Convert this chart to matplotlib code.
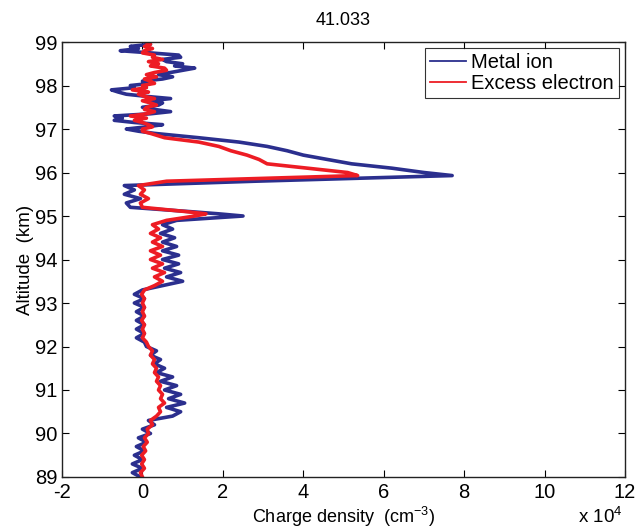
import matplotlib
matplotlib.use("Agg")
import matplotlib.pyplot as plt
import numpy as np

plt.rcParams['font.family'] = ['Liberation Sans', 'DejaVu Sans']
plt.rcParams['mathtext.fontset'] = 'custom'
plt.rcParams['mathtext.rm'] = 'Liberation Sans'
plt.rcParams['mathtext.it'] = 'Liberation Sans:italic'
plt.rcParams['axes.unicode_minus'] = False

TITLE = "41.033"

# altitude (km), shared by both profiles
altitude = [89.0, 89.1, 89.2, 89.3, 89.4, 89.5, 89.6, 89.7, 89.8, 89.9,
            90.0, 90.1, 90.2, 90.3, 90.4, 90.5, 90.6, 90.7, 90.8, 90.9,
            91.0, 91.1, 91.2, 91.3, 91.4, 91.5, 91.6, 91.7, 91.8, 91.9,
            92.0, 92.1, 92.2, 92.3, 92.4, 92.5, 92.6, 92.7, 92.8, 92.9,
            93.0, 93.1, 93.2, 93.3, 93.4, 93.5, 93.6, 93.7, 93.8, 93.9,
            94.0, 94.1, 94.2, 94.3, 94.4, 94.5, 94.6, 94.7, 94.8, 94.9,
            95.0, 95.05, 95.1, 95.2, 95.3, 95.4, 95.5, 95.6, 95.7, 95.8,
            95.93, 96.0, 96.1, 96.2, 96.3, 96.4, 96.5, 96.6, 96.7, 96.8,
            96.9, 96.95, 97.0, 97.05, 97.1, 97.15, 97.2, 97.25, 97.3, 97.35,
            97.4, 97.45, 97.5, 97.55, 97.6, 97.65, 97.7, 97.75, 97.8, 97.85,
            97.9, 97.95, 98.0, 98.05, 98.1, 98.15, 98.2, 98.25, 98.3, 98.35,
            98.4, 98.45, 98.5, 98.55, 98.6, 98.65, 98.7, 98.75, 98.8, 98.85,
            98.9, 98.95, 99.0]

# charge density, units of 1e4 cm^-3
metal_ion = [-0.05, -0.25, 0.0, -0.25, 0.0, -0.2, 0.05, -0.15, 0.1, -0.1,
             0.2, 0.0, 0.3, 0.15, 0.75, 0.95, 0.6, 1.05, 0.65, 0.95,
             0.55, 0.85, 0.45, 0.75, 0.35, 0.55, 0.3, 0.45, 0.2, 0.35,
             0.1, 0.05, -0.15, 0.05, -0.15, 0.05, -0.15, 0.05, -0.15, 0.05,
             -0.2, 0.05, -0.2, 0.0, 0.5, 1.0, 0.6, 0.95, 0.55, 0.9,
             0.5, 0.9, 0.5, 0.85, 0.5, 0.8, 0.45, 0.75, 0.5, 0.85,
             2.5, 1.9, 1.2, -0.3, -0.4, -0.05, -0.45, -0.2, -0.45, 2.8,
             7.7, 7.0, 6.2, 5.2, 4.6, 4.0, 3.6, 3.1, 2.4, 1.4,
             0.3, -0.1, -0.4, 0.1, 0.5, -0.2, -0.7, -0.5, -0.7, 0.2,
             0.7, 0.3, 0.0, 0.4, 0.5, 0.2, 0.7, 0.1, -0.4, -0.6,
             -0.77, -0.2, -0.3, 0.2, 0.0, 0.5, 0.75, 0.4, 0.7, 1.0,
             1.3, 0.8, 1.0, 0.6, 0.5, 0.95, 0.9, 0.2, -0.55, -0.1,
             -0.3, 0.2, 0.1]

excess_electron = [0.0, -0.05, 0.05, -0.02, 0.05, -0.02, 0.08, 0.02, 0.12, 0.05,
                   0.15, 0.12, 0.25, 0.2, 0.35, 0.45, 0.4, 0.55, 0.45, 0.5,
                   0.4, 0.45, 0.35, 0.4, 0.3, 0.35, 0.25, 0.3, 0.2, 0.25,
                   0.15, 0.1, 0.0, 0.05, 0.0, 0.05, -0.02, 0.05, 0.0, 0.05,
                   0.0, 0.05, -0.02, 0.05, 0.3, 0.5, 0.3, 0.55, 0.25, 0.5,
                   0.2, 0.45, 0.2, 0.5, 0.25, 0.45, 0.2, 0.4, 0.25, 0.6,
                   1.3, 1.58, 1.1, 0.0, -0.05, 0.15, -0.05, 0.05, -0.1, 0.6,
                   5.35, 5.1, 4.1, 3.1, 2.9, 2.6, 2.2, 1.9, 1.4, 0.55,
                   0.2, 0.0, 0.0, 0.25, 0.15, 0.0, -0.2, 0.1, -0.3, 0.1,
                   0.3, 0.05, 0.1, 0.35, 0.2, 0.0, 0.3, 0.05, -0.1, 0.15,
                   -0.25, 0.1, 0.0, 0.3, 0.2, 0.05, 0.35, 0.1, 0.3, 0.6,
                   0.55, 0.2, 0.4, 0.15, 0.5, 0.25, 0.3, 0.0, 0.05, 0.25,
                   0.05, 0.2, 0.1]

BLUE = "#2b2f8e"
RED = "#ed1c24"

fig = plt.figure(figsize=(6.37, 5.32), dpi=100)
ax = fig.add_axes([0.0973, 0.1034, 0.884, 0.8176])

ax.plot(metal_ion, altitude, color=BLUE, lw=2.6, label="Metal ion")
ax.plot(excess_electron, altitude, color=RED, lw=2.6, label="Excess electron")

ax.set_xlim(-2, 12)
ax.set_ylim(89, 99)
ax.set_xticks(np.arange(-2, 13, 2))
ax.set_yticks(np.arange(89, 100, 1))
ax.tick_params(direction="in", top=True, right=True, length=5, width=0.8,
               labelsize=14.5)
ax.tick_params(axis="x", pad=4.5)
ax.tick_params(axis="y", pad=3)
for s in ax.spines.values():
    s.set_linewidth(1.0)
    s.set_color("#222222")

ax.set_title(TITLE, fontsize=13, pad=12)
ax.set_xlabel("Charge density  (cm$^{-3}$)", fontsize=13, labelpad=2)
ax.set_ylabel("Altitude  (km)", fontsize=13.5, labelpad=1)
fig.text(0.943, 0.010, "x 10$^4$", fontsize=13.5, ha="center", va="bottom")

leg = ax.legend(loc="upper right", fontsize=14.5, frameon=True, fancybox=False,
                edgecolor="black", borderpad=0.25, handlelength=1.8,
                handletextpad=0.25, labelspacing=0.1, borderaxespad=0.3)
leg.get_frame().set_linewidth(0.8)
for line in leg.get_lines():
    line.set_linewidth(1.3)

fig.savefig("out.png", dpi=100)
